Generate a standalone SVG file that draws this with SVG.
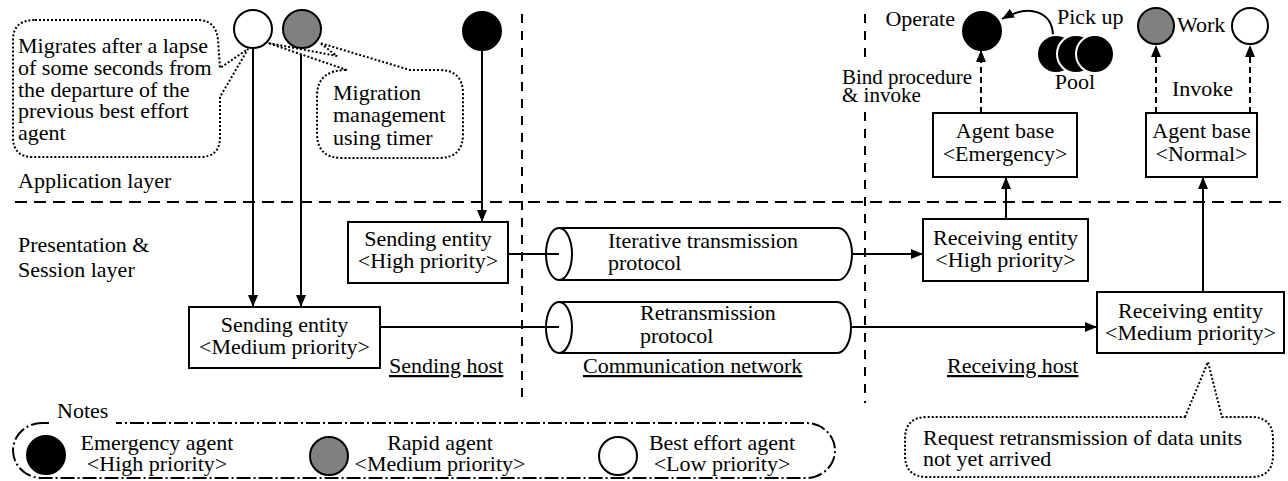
<svg xmlns="http://www.w3.org/2000/svg" width="1288" height="481" viewBox="0 0 1288 481">
  <style>
    text { font-family: "Liberation Serif", "Times New Roman", serif; font-size: 22px; fill: #000; }
    .c { text-anchor: middle; }
    .r { text-anchor: end; }
    .u { text-decoration: underline; }
    .box { fill: #fff; stroke: #000; stroke-width: 2; }
    .line { fill: none; stroke: #000; stroke-width: 2; }
    .arrow { fill: none; stroke: #000; stroke-width: 2; marker-end: url(#ah); }
    .darrow { fill: none; stroke: #000; stroke-width: 2; stroke-dasharray: 6 4; marker-end: url(#ah); }
    .hdash { fill: none; stroke: #000; stroke-width: 2; stroke-dasharray: 12 7; }
    .vdash { fill: none; stroke: #000; stroke-width: 2; stroke-dasharray: 9 8; }
    .dot { fill: #fff; stroke: #000; stroke-width: 2; stroke-dasharray: 2 2; }
    .dashdot { fill: none; stroke: #000; stroke-width: 2; stroke-dasharray: 14 3 2 3; }
    .emg { fill: #000; stroke: #000; stroke-width: 2; }
    .rap { fill: #808080; stroke: #000; stroke-width: 2; }
    .be { fill: #fff; stroke: #000; stroke-width: 2; }
    .pool { fill: #000; stroke: #fff; stroke-width: 2; }
  </style>
  <defs>
    <marker id="ah" viewBox="0 0 12 10" refX="12" refY="5" markerWidth="12" markerHeight="10" orient="auto" markerUnits="userSpaceOnUse">
      <path d="M0,0 L12,5 L0,10 Z" fill="#000"/>
    </marker>
  </defs>

  <rect x="0" y="0" width="1288" height="481" fill="#fff"/>

  <!-- layer and host boundaries -->
  <g id="boundaries">
    <line class="hdash" x1="15" y1="202" x2="1288" y2="202"/>
    <line class="vdash" x1="522" y1="14" x2="522" y2="405"/>
    <line class="vdash" x1="865" y1="14" x2="865" y2="64"/>
    <line class="vdash" x1="865" y1="112" x2="865" y2="403"/>
  </g>

  <!-- region labels -->
  <g id="labels">
    <text x="18" y="188">Application layer</text>
    <text x="18" y="252">Presentation &amp;</text>
    <text x="18" y="277">Session layer</text>
    <text x="389" y="373" class="u">Sending host</text>
    <text x="583" y="373" class="u">Communication network</text>
    <text x="947" y="373" class="u">Receiving host</text>
  </g>

  <!-- connectors -->
  <g id="connectors">
    <line class="arrow" x1="253" y1="48" x2="253" y2="307"/>
    <line class="arrow" x1="301" y1="48" x2="301" y2="307"/>
    <line class="arrow" x1="482" y1="50" x2="482" y2="222"/>
    <line class="line" x1="508" y1="254" x2="559" y2="254"/>
    <line class="line" x1="380" y1="327" x2="559" y2="327"/>
    <line class="arrow" x1="852" y1="254" x2="923" y2="254"/>
    <line class="arrow" x1="851" y1="327" x2="1097" y2="327"/>
    <line class="arrow" x1="1006" y1="219" x2="1006" y2="177"/>
    <line class="arrow" x1="1203" y1="292" x2="1203" y2="177"/>
    <line class="darrow" x1="981" y1="113" x2="981" y2="50"/>
    <line class="darrow" x1="1156" y1="113" x2="1156" y2="45"/>
    <line class="darrow" x1="1250" y1="113" x2="1250" y2="45"/>
    <path class="arrow" d="M1053,35 C1052,12 1030,3 1002,19"/>
  </g>

  <!-- agents at the sending host -->
  <g id="agent-best-effort-send"><circle class="be" cx="253" cy="29" r="19"/></g>
  <g id="agent-rapid-send"><circle class="rap" cx="302" cy="29" r="19"/></g>
  <g id="agent-emergency-send"><circle class="emg" cx="482" cy="31" r="19"/></g>

  <!-- callouts -->
  <g id="callout-lapse">
    <path class="dot" d="M35,20 H198 Q216,20 218,40 L220,68 L248,49 L220,97 V137 Q220,157 200,157 H33 Q13,157 13,137 V40 Q13,20 35,20 Z"/>
    <text x="18" y="53">Migrates after a lapse</text>
    <text x="18" y="75">of some seconds from</text>
    <text x="18" y="97">the departure of the</text>
    <text x="18" y="118">previous best effort</text>
    <text x="18" y="140">agent</text>
  </g>
  <g id="callout-timer">
    <path class="dot" d="M347,70 L268,43 L337,56 L320,43 L410,70 H439 Q463,70 463,94 V134 Q463,158 439,158 H342 Q317,158 317,133 V96 Q317,70 347,70 Z"/>
    <text x="333" y="100">Migration</text>
    <text x="333" y="122">management</text>
    <text x="333" y="145">using timer</text>
  </g>

  <!-- sending entities -->
  <g id="send-high">
    <rect class="box" x="348" y="222" width="160" height="61"/>
    <text class="c" x="428" y="246">Sending entity</text>
    <text class="c" x="428" y="268">&lt;High priority&gt;</text>
  </g>
  <g id="send-medium">
    <rect class="box" x="189" y="307" width="191" height="61"/>
    <text class="c" x="284.5" y="332">Sending entity</text>
    <text class="c" x="284.5" y="354">&lt;Medium priority&gt;</text>
  </g>

  <!-- protocols -->
  <g id="proto-iterative">
    <path class="box" d="M559,228 H838 A14,26 0 0 1 838,280 H559 Z"/>
    <ellipse class="box" cx="559" cy="254" rx="13" ry="26"/>
    <line class="line" x1="546" y1="254" x2="559" y2="254"/>
    <text x="608" y="248">Iterative transmission</text>
    <text x="608" y="270">protocol</text>
  </g>
  <g id="proto-retransmission">
    <path class="box" d="M559,302 H837 A14,25.5 0 0 1 837,353 H559 Z"/>
    <ellipse class="box" cx="559" cy="327.5" rx="13" ry="25.5"/>
    <line class="line" x1="546" y1="327" x2="559" y2="327"/>
    <text x="640" y="320">Retransmission</text>
    <text x="640" y="343">protocol</text>
  </g>

  <!-- receiving entities -->
  <g id="recv-high">
    <rect class="box" x="923" y="219" width="165" height="62"/>
    <text class="c" x="1005.5" y="245">Receiving entity</text>
    <text class="c" x="1005.5" y="267">&lt;High priority&gt;</text>
  </g>
  <g id="recv-medium">
    <rect class="box" x="1097" y="292" width="187" height="61"/>
    <text class="c" x="1190.5" y="318">Receiving entity</text>
    <text class="c" x="1190.5" y="340">&lt;Medium priority&gt;</text>
  </g>

  <!-- agent bases -->
  <g id="base-emergency">
    <rect class="box" x="933" y="113" width="144" height="64"/>
    <text class="c" x="1005" y="138">Agent base</text>
    <text class="c" x="1005" y="161">&lt;Emergency&gt;</text>
  </g>
  <g id="base-normal">
    <rect class="box" x="1146" y="113" width="111" height="64"/>
    <text class="c" x="1201.5" y="138">Agent base</text>
    <text class="c" x="1201.5" y="161">&lt;Normal&gt;</text>
  </g>

  <!-- agents at the receiving host -->
  <g id="agent-operate">
    <circle class="emg" cx="982" cy="31" r="19"/>
    <text class="r" x="955" y="26">Operate</text>
  </g>
  <g id="pool">
    <circle class="pool" cx="1056" cy="54" r="19"/>
    <circle class="pool" cx="1076" cy="54" r="19"/>
    <circle class="pool" cx="1095" cy="54" r="19"/>
    <text x="1057" y="24">Pick up</text>
    <text class="c" x="1075" y="89">Pool</text>
  </g>
  <g id="bind-label">
    <text x="842" y="84" style="font-size:21px">Bind procedure</text>
    <text x="842" y="102" style="font-size:21px">&amp; invoke</text>
  </g>
  <g id="agent-work-rapid"><circle class="rap" cx="1156" cy="26" r="18"/></g>
  <g id="agent-work-best-effort"><circle class="be" cx="1250" cy="26" r="18"/></g>
  <g id="work-labels">
    <text x="1177" y="32">Work</text>
    <text x="1172" y="96">Invoke</text>
  </g>

  <!-- retransmission request -->
  <g id="callout-request">
    <path class="dot" d="M1185,417 L1208,362 L1222,417 H1251 Q1273,417 1273,439 V455 Q1273,477 1251,477 H927 Q905,477 905,455 V439 Q905,417 927,417 Z"/>
    <text x="923" y="445">Request retransmission of data units</text>
    <text x="923" y="466">not yet arrived</text>
  </g>

  <!-- legend -->
  <g id="notes">
    <path class="dashdot" d="M42,423 H806 A29,27.5 0 0 1 806,478 H42 A29,27.5 0 0 1 42,423 Z"/>
    <rect x="49" y="405" width="67" height="24" fill="#fff"/>
    <text x="57" y="418">Notes</text>
    <circle class="emg" cx="46" cy="455" r="19"/>
    <text class="c" x="157" y="450">Emergency agent</text>
    <text class="c" x="157" y="471">&lt;High priority&gt;</text>
    <circle class="rap" cx="329" cy="456" r="19"/>
    <text class="c" x="440" y="450">Rapid agent</text>
    <text class="c" x="440" y="471">&lt;Medium priority&gt;</text>
    <circle class="be" cx="618" cy="456" r="19"/>
    <text class="c" x="722" y="450">Best effort agent</text>
    <text class="c" x="722" y="471">&lt;Low priority&gt;</text>
  </g>
</svg>
